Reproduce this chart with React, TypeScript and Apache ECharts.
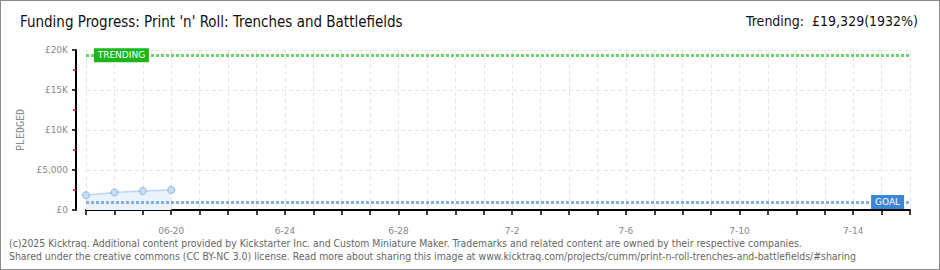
import React, { useEffect, useRef } from "react";
import * as echarts from "echarts";

const dates = [
  "06-17", "06-18", "06-19", "06-20", "06-21", "06-22", "06-23", "06-24", "06-25", "06-26",
  "06-27", "06-28", "06-29", "06-30", "07-01", "07-02", "07-03", "07-04", "07-05", "07-06",
  "07-07", "07-08", "07-09", "07-10", "07-11", "07-12", "07-13", "07-14", "07-15", "07-16",
];
const xTickLabels = ["06-20", "6-24", "6-28", "7-2", "7-6", "7-10", "7-14"];
const yTickLabels = ["£0", "£5,000", "£10K", "£15K", "£20K"];
const pledged = [1840, 2200, 2380, 2500];
const goal = 1000;
const trending = 19329;

const title = "Funding Progress: Print 'n' Roll: Trenches and Battlefields";
const trendingText = "Trending:  £19,329(1932%)";
const footer1 =
  "(c)2025 Kicktraq. Additional content provided by Kickstarter Inc. and Custom Miniature Maker. Trademarks and related content are owned by their respective companies.";
const footer2 =
  "Shared under the creative commons (CC BY-NC 3.0) license. Read more about sharing this image at www.kicktraq.com/projects/cumm/print-n-roll-trenches-and-battlefields/#sharing";

export default function App() {
  const ref = useRef<HTMLDivElement>(null);
  useEffect(() => {
    if (!ref.current) return;
    const chart = echarts.init(ref.current, null, { renderer: "svg" });
    const axisFont = "DejaVu Sans";
    chart.setOption({
      animation: false,
      backgroundColor: "#fff",
      graphic: [
        {
          type: "text",
          left: 20,
          top: 14,
          style: { text: title, font: "15px 'DejaVu Sans Condensed'", fill: "#111" },
        },
        {
          type: "text",
          right: 22,
          top: 14,
          style: { text: trendingText, font: "14px 'DejaVu Sans Condensed'", fill: "#111" },
        },
        {
          type: "text",
          left: 9,
          top: 238,
          style: { text: footer1, font: "10.4px 'DejaVu Sans Condensed'", fill: "#666" },
        },
        {
          type: "text",
          left: 9,
          top: 251,
          style: { text: footer2, font: "10.4px 'DejaVu Sans Condensed'", fill: "#666" },
        },
      ],
      grid: { left: 86, right: 30, top: 50, bottom: 60 },
      xAxis: {
        type: "category",
        data: dates,
        boundaryGap: false,
        offset: 10,
        axisLine: { lineStyle: { color: "#000", width: 2 } },
        axisTick: { show: true, interval: 0, length: 5, lineStyle: { color: "#000", width: 1.5 } },
        axisLabel: {
          interval: 0,
          margin: 6,
          color: "#888",
          fontFamily: axisFont,
          fontSize: 9,
          formatter: (_v: string, i: number) =>
            (i - 3) % 4 === 0 && i >= 3 ? xTickLabels[(i - 3) / 4] ?? "" : "",
        },
        splitLine: {
          show: true,
          interval: 0,
          lineStyle: { color: "#e6e6e6", type: [4, 3], width: 1 },
        },
      },
      yAxis: {
        type: "value",
        min: 0,
        max: 20000,
        interval: 5000,
        offset: 10,
        name: "PLEDGED",
        nameLocation: "middle",
        nameRotate: 90,
        nameGap: 50,
        nameTextStyle: { color: "#888", fontFamily: "DejaVu Sans Mono", fontSize: 10 },
        axisLine: { show: true, lineStyle: { color: "#000", width: 2 } },
        axisTick: { show: true, length: 4, lineStyle: { color: "#000", width: 1.5 } },
        minorTick: { show: true, splitNumber: 2, length: 3, lineStyle: { color: "#e00", width: 1.5 } },
        axisLabel: {
          margin: 8,
          color: "#888",
          fontFamily: axisFont,
          fontSize: 9,
          formatter: (v: number) => yTickLabels[Math.round(v / 5000)] ?? "",
        },
        splitLine: { show: true, lineStyle: { color: "#e3e3e3", type: [4, 3], width: 1 } },
      },
      series: [
        {
          type: "line",
          data: pledged,
          symbol: "circle",
          symbolSize: 7,
          itemStyle: { color: "#c6ddf7", borderColor: "#8fb4df", borderWidth: 1 },
          lineStyle: { color: "#bcd6f2", width: 1.5 },
          areaStyle: { color: "#eaf2fc", opacity: 1 },
          z: 3,
          markLine: {
            silent: true,
            symbol: "none",
            label: { show: false },
            data: [
              { yAxis: goal, lineStyle: { color: "#86aee0", width: 3, type: [3, 2] } },
              { yAxis: trending, lineStyle: { color: "#6cd46c", width: 3, type: [3, 2] } },
            ],
          },
          markPoint: {
            silent: true,
            data: [
              {
                coord: [1, trending],
                symbol: "rect",
                symbolSize: [55, 14],
                symbolOffset: [7, 0],
                itemStyle: { color: "#1cb51c", borderRadius: 2 },
                label: {
                  show: true,
                  position: "inside",
                  formatter: "TRENDING",
                  color: "#fff",
                  fontFamily: axisFont,
                  fontSize: 9,
                },
              },
              {
                coord: [28, goal],
                symbol: "rect",
                symbolSize: [33, 14],
                symbolOffset: [6, 0],
                itemStyle: { color: "#3a87d6", borderRadius: 2 },
                label: {
                  show: true,
                  position: "inside",
                  formatter: "GOAL",
                  color: "#fff",
                  fontFamily: axisFont,
                  fontSize: 9,
                },
              },
            ],
          },
        },
      ],
    });
    return () => chart.dispose();
  }, []);
  return (
    <div
      style={{
        position: "fixed",
        left: 0,
        top: 0,
        width: 940,
        height: 270,
        boxSizing: "border-box",
        border: "1px solid #8a8a8a",
        overflow: "hidden",
      }}
    >
      <div ref={ref} style={{ position: "absolute", left: -1, top: -1, width: 940, height: 270 }} />
    </div>
  );
}
